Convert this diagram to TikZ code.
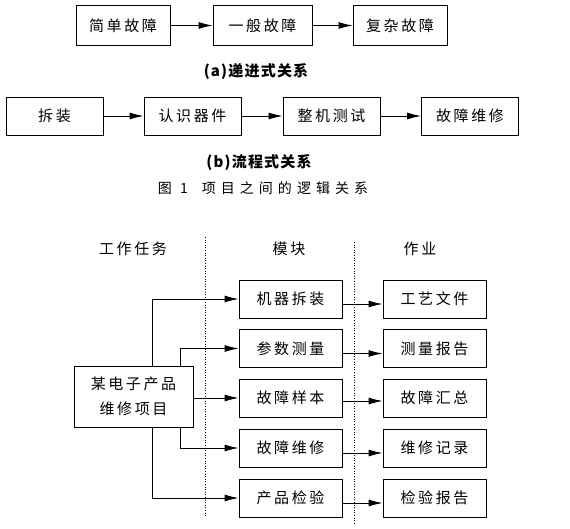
\documentclass[tikz,border=0pt]{standalone}
\usepackage{fontspec}
\usepackage{tikz}
\usetikzlibrary{arrows,arrows.meta}
\setmainfont{Noto Sans CJK SC}
\newfontfamily\boxfont[LetterSpace=17]{Noto Sans CJK SC}
\newfontfamily\capfont[LetterSpace=8]{Noto Sans CJK SC}
\newfontfamily\figfont[LetterSpace=36]{Noto Sans CJK SC}
\tikzset{
  blk/.style={draw, line width=0.9pt, inner sep=0pt, font=\boxfont\fontsize{15}{18}\selectfont},
  captxt/.style={font=\capfont\bfseries\fontsize{15}{17}\selectfont},
  hdr/.style={font=\boxfont\fontsize{15}{17}\selectfont},
  >={Latex[length=14pt,width=7pt]}
}

\begin{document}
\begin{tikzpicture}[x=1pt, y=-1pt, line width=0.9pt]
  \useasboundingbox (0,0) rectangle (570,529);
  \node [blk, minimum width=94, minimum height=40] (A1) at (123, 25.5) {简单故障};
  \node [blk, minimum width=99, minimum height=40] (A2) at (262.5, 25.5) {一般故障};
  \node [blk, minimum width=94, minimum height=40] (A3) at (400, 25.5) {复杂故障};
  \draw [->] (A1) -- (A2);
  \draw [->] (A2) -- (A3);
  \node [captxt] (CA) at (256, 72) {(a)递进式关系};

  \node [blk, minimum width=97, minimum height=38] (B1) at (54.5, 116) {拆装};
  \node [blk, minimum width=97, minimum height=38] (B2) at (192.5, 116) {认识器件};
  \node [blk, minimum width=97, minimum height=38] (B3) at (331.5, 116) {整机测试};
  \node [blk, minimum width=97, minimum height=38] (B4) at (470, 116) {故障维修};
  \draw [->] (B1) -- (B2);
  \draw [->] (B2) -- (B3);
  \draw [->] (B3) -- (B4);
  \node [captxt] (CB) at (259, 163) {(b)流程式关系};
  \node [font=\figfont\fontsize{14}{16}\selectfont] (CF) at (263, 188) {图 1\quad 项目之间的逻辑关系};

  \draw [dotted, line width=0.6pt] (205, 237) -- (205, 517);
  \draw [dotted, line width=0.6pt] (354, 242) -- (354, 523);
  \node [hdr] (H1) at (133, 249) {工作任务};
  \node [hdr] (H2) at (289, 249) {模块};
  \node [hdr] (H3) at (420, 249) {作业};

  \node [blk, minimum width=119, minimum height=61, align=center, font=\boxfont\fontsize{15}{25}\selectfont] (T) at (133.5, 396.5) {某电子产品\\维修项目};

  \node [blk, minimum width=103, minimum height=38] (M1) at (290.5, 299) {机器拆装};
  \node [blk, minimum width=103, minimum height=38] (M2) at (290.5, 348.5) {参数测量};
  \node [blk, minimum width=103, minimum height=38] (M3) at (290.5, 398) {故障样本};
  \node [blk, minimum width=103, minimum height=38] (M4) at (290.5, 448) {故障维修};
  \node [blk, minimum width=103, minimum height=38] (M5) at (290.5, 498) {产品检验};

  \node [blk, minimum width=103, minimum height=38] (O1) at (434.5, 299) {工艺文件};
  \node [blk, minimum width=103, minimum height=38] (O2) at (434.5, 348.5) {测量报告};
  \node [blk, minimum width=103, minimum height=38] (O3) at (434.5, 398) {故障汇总};
  \node [blk, minimum width=103, minimum height=38] (O4) at (434.5, 448) {维修记录};
  \node [blk, minimum width=103, minimum height=38] (O5) at (434.5, 498) {检验报告};

  \draw [->] ([xshift=18.5]T.north) |- (M1.west);
  \draw [->] ([xshift=46.5]T.north) |- (M2.west);
  \draw [->] (T.east |- M3.west) -- (M3.west);
  \draw [->] ([xshift=46.5]T.south) |- (M4.west);
  \draw [->] ([xshift=18.5]T.south) |- (M5.west);

  \draw [->] ([yshift=-5]M1.east) -- ([yshift=-5]O1.west);
  \draw [->] ([yshift=-5]M2.east) -- ([yshift=-5]O2.west);
  \draw [->] ([yshift=-3]M3.east) -- ([yshift=-3]O3.west);
  \draw [->] ([yshift=-5]M4.east) -- ([yshift=-5]O4.west);
  \draw [->] ([yshift=-5]M5.east) -- ([yshift=-5]O5.west);
\end{tikzpicture}
\end{document}
